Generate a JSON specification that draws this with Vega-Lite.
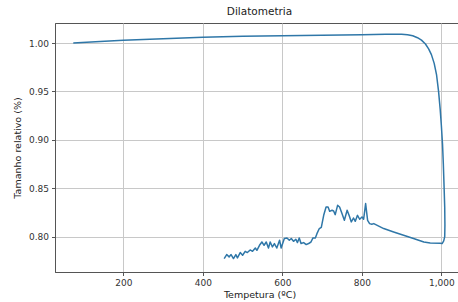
{
  "$schema": "https://vega.github.io/schema/vega-lite/v6.json",
  "autosize": {"type": "none"},
  "width": 409,
  "height": 249,
  "padding": {"left": 55, "top": 23, "right": 0, "bottom": 30},
  "background": "white",
  "title": {"text": "Dilatometria", "fontSize": 10.5, "font": "DejaVu Sans", "fontWeight": "normal", "color": "#222", "offset": 6, "anchor": "middle"},
  "config": {
    "view": {"stroke": "#555", "strokeWidth": 1},
    "axis": {
      "labelFont": "DejaVu Sans", "titleFont": "DejaVu Sans", "labelFontSize": 9, "titleFontSize": 9.5,
      "titleFontWeight": "normal", "labelColor": "#333", "titleColor": "#222",
      "gridColor": "#c8c8c8", "gridWidth": 1, "domainColor": "#555", "tickColor": "#555", "tickSize": 3.5
    }
  },
  "data": {"values": [
    {"i": 1, "t": 74, "s": 1.0},
    {"i": 2, "t": 130, "s": 1.0012},
    {"i": 3, "t": 200, "s": 1.0028},
    {"i": 4, "t": 300, "s": 1.0045},
    {"i": 5, "t": 400, "s": 1.0059},
    {"i": 6, "t": 500, "s": 1.0069},
    {"i": 7, "t": 600, "s": 1.0076},
    {"i": 8, "t": 700, "s": 1.0081},
    {"i": 9, "t": 800, "s": 1.0086},
    {"i": 10, "t": 860, "s": 1.0091},
    {"i": 11, "t": 900, "s": 1.0091},
    {"i": 12, "t": 915, "s": 1.0086},
    {"i": 13, "t": 928, "s": 1.0075},
    {"i": 14, "t": 940, "s": 1.0055},
    {"i": 15, "t": 950, "s": 1.003},
    {"i": 16, "t": 960, "s": 0.999},
    {"i": 17, "t": 968, "s": 0.994},
    {"i": 18, "t": 975, "s": 0.988},
    {"i": 19, "t": 982, "s": 0.979},
    {"i": 20, "t": 988, "s": 0.967},
    {"i": 21, "t": 993, "s": 0.95},
    {"i": 22, "t": 997, "s": 0.932},
    {"i": 23, "t": 1000, "s": 0.915},
    {"i": 24, "t": 1003, "s": 0.895},
    {"i": 25, "t": 1005, "s": 0.875},
    {"i": 26, "t": 1007, "s": 0.85},
    {"i": 27, "t": 1008.5, "s": 0.83},
    {"i": 28, "t": 1009, "s": 0.812},
    {"i": 29, "t": 1008.5, "s": 0.8},
    {"i": 30, "t": 1006, "s": 0.7955},
    {"i": 31, "t": 1002, "s": 0.7928},
    {"i": 32, "t": 997, "s": 0.7932},
    {"i": 33, "t": 972, "s": 0.7934},
    {"i": 34, "t": 956, "s": 0.7944},
    {"i": 35, "t": 930, "s": 0.798},
    {"i": 36, "t": 905, "s": 0.8013},
    {"i": 37, "t": 880, "s": 0.8047},
    {"i": 38, "t": 855, "s": 0.8083},
    {"i": 39, "t": 830, "s": 0.8134},
    {"i": 40, "t": 825, "s": 0.8128},
    {"i": 41, "t": 819.5, "s": 0.8134},
    {"i": 42, "t": 814.5, "s": 0.8168},
    {"i": 43, "t": 809.5, "s": 0.8341},
    {"i": 44, "t": 804.5, "s": 0.8179},
    {"i": 45, "t": 800.5, "s": 0.8203},
    {"i": 46, "t": 794.5, "s": 0.8179},
    {"i": 47, "t": 789, "s": 0.822},
    {"i": 48, "t": 783.5, "s": 0.8158},
    {"i": 49, "t": 779, "s": 0.8192},
    {"i": 50, "t": 773.5, "s": 0.8151},
    {"i": 51, "t": 768.5, "s": 0.8213},
    {"i": 52, "t": 763, "s": 0.8272},
    {"i": 53, "t": 756, "s": 0.8168},
    {"i": 54, "t": 750, "s": 0.8238},
    {"i": 55, "t": 744, "s": 0.8306},
    {"i": 56, "t": 739, "s": 0.8323},
    {"i": 57, "t": 733, "s": 0.8227},
    {"i": 58, "t": 729, "s": 0.8265},
    {"i": 59, "t": 725, "s": 0.8272},
    {"i": 60, "t": 719, "s": 0.8261},
    {"i": 61, "t": 715, "s": 0.8306},
    {"i": 62, "t": 710, "s": 0.8306},
    {"i": 63, "t": 704, "s": 0.822},
    {"i": 64, "t": 698, "s": 0.8096},
    {"i": 65, "t": 693, "s": 0.8083},
    {"i": 66, "t": 687, "s": 0.803},
    {"i": 67, "t": 683, "s": 0.7986},
    {"i": 68, "t": 677, "s": 0.7986},
    {"i": 69, "t": 672, "s": 0.7944},
    {"i": 70, "t": 666, "s": 0.7928},
    {"i": 71, "t": 660, "s": 0.7917},
    {"i": 72, "t": 653.5, "s": 0.7938},
    {"i": 73, "t": 647, "s": 0.7928},
    {"i": 74, "t": 642.5, "s": 0.7986},
    {"i": 75, "t": 638, "s": 0.7938},
    {"i": 76, "t": 634, "s": 0.7972},
    {"i": 77, "t": 628, "s": 0.7951},
    {"i": 78, "t": 622.5, "s": 0.798},
    {"i": 79, "t": 617.5, "s": 0.7962},
    {"i": 80, "t": 611.6, "s": 0.7986},
    {"i": 81, "t": 605, "s": 0.798},
    {"i": 82, "t": 597, "s": 0.7882},
    {"i": 83, "t": 593, "s": 0.7962},
    {"i": 84, "t": 586, "s": 0.7882},
    {"i": 85, "t": 580, "s": 0.7928},
    {"i": 86, "t": 575, "s": 0.7893},
    {"i": 87, "t": 569.5, "s": 0.7944},
    {"i": 88, "t": 565, "s": 0.7882},
    {"i": 89, "t": 559.5, "s": 0.7944},
    {"i": 90, "t": 554, "s": 0.791},
    {"i": 91, "t": 548.6, "s": 0.7944},
    {"i": 92, "t": 542.5, "s": 0.791},
    {"i": 93, "t": 536, "s": 0.7858},
    {"i": 94, "t": 532, "s": 0.7882},
    {"i": 95, "t": 525, "s": 0.7848},
    {"i": 96, "t": 519, "s": 0.7862},
    {"i": 97, "t": 512, "s": 0.7835},
    {"i": 98, "t": 506.5, "s": 0.7848},
    {"i": 99, "t": 500, "s": 0.7807},
    {"i": 100, "t": 494, "s": 0.7835},
    {"i": 101, "t": 487, "s": 0.778},
    {"i": 102, "t": 483, "s": 0.7814},
    {"i": 103, "t": 477, "s": 0.7773},
    {"i": 104, "t": 471, "s": 0.7814},
    {"i": 105, "t": 466, "s": 0.779},
    {"i": 106, "t": 460, "s": 0.7814},
    {"i": 107, "t": 453.6, "s": 0.7773}
  ]},
  "mark": {"type": "line", "color": "#2f77a8", "strokeWidth": 1.5, "clip": true, "strokeJoin": "round"},
  "encoding": {
    "order": {"field": "i", "type": "quantitative"},
    "x": {"field": "t", "type": "quantitative", "scale": {"domain": [28, 1057], "nice": false, "zero": false},
      "axis": {"title": "Tempetura (ºC)", "values": [200, 400, 600, 800, 1000], "labelPadding": 3, "titlePadding": 2}},
    "y": {"field": "s", "type": "quantitative", "scale": {"domain": [0.7634, 1.0207], "nice": false, "zero": false},
      "axis": {"title": "Tamanho relativo (%)", "values": [0.80, 0.85, 0.90, 0.95, 1.00], "format": ".2f", "labelPadding": 3, "titlePadding": 6}}
  }
}
